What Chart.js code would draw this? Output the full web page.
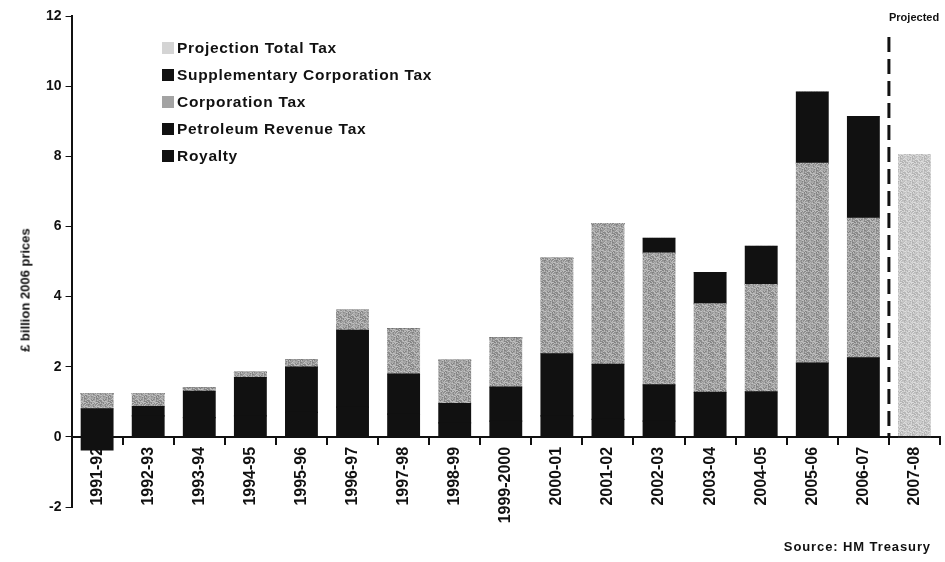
<!DOCTYPE html>
<html>
<head>
<meta charset="utf-8">
<script src="https://cdn.jsdelivr.net/npm/chart.js@4.4.1/dist/chart.umd.min.js"></script>
<style>
  html, body { margin: 0; padding: 0; background: #fff; }
  #wrap { position: relative; width: 945px; height: 562px; font-family: "Liberation Sans", Arial, sans-serif; font-weight: bold; color: #111; }
  #chart { position: absolute; left: 0; top: 0; }
  #legend { position: absolute; left: 162px; top: 34px; font-size: 15.5px; line-height: 27px; letter-spacing: 0.7px; }
  #legend div { display: flex; align-items: center; white-space: nowrap; }
  #legend span.box { width: 12px; height: 12px; margin-right: 3px; display: inline-block; }
  #ytitle { position: absolute; left: 25px; top: 290px; transform: translate(-50%, -50%) rotate(-90deg); font-size: 13px; white-space: nowrap; }
  #projected { position: absolute; left: 889px; top: 11px; font-size: 11px; }
  #source { position: absolute; right: 14px; top: 539px; font-size: 13px; letter-spacing: 0.9px; white-space: nowrap; }
</style>
</head>
<body>
<div id="wrap">
  <canvas id="chart" width="945" height="562"></canvas>
  <div id="legend"></div>
  <div id="ytitle">£ billion 2006 prices</div>
  <div id="projected">Projected</div>
  <div id="source">Source: HM Treasury</div>
</div>
<script>
const years = ['1991-92', '1992-93', '1993-94', '1994-95', '1995-96', '1996-97', '1997-98', '1998-99',
  '1999-2000', '2000-01', '2001-02', '2002-03', '2003-04', '2004-05', '2005-06', '2006-07', '2007-08'];

// £ billion, 2006 prices
const royalty = [0.80, 0.60, 0.55, 0.60, 0.70, 0.85, 0.65, 0.40, 0.45, 0.60, 0.50, 0.45, 0, 0, 0, 0, 0];
const petroleumRevenueTax = [-0.37, 0.26, 0.75, 1.09, 1.29, 2.19, 1.14, 0.55, 0.97, 1.77, 1.57, 1.03, 1.27, 1.28, 2.10, 2.25, 0];
const corporationTax = [0.43, 0.37, 0.09, 0.15, 0.20, 0.57, 1.29, 1.23, 1.40, 2.72, 4.01, 3.76, 2.52, 3.06, 5.70, 3.98, 0];
const supplementaryCT = [0, 0, 0, 0, 0, 0, 0, 0, 0, 0, 0, 0.42, 0.89, 1.09, 2.03, 2.90, 0];
const projectionTotal = [0, 0, 0, 0, 0, 0, 0, 0, 0, 0, 0, 0, 0, 0, 0, 0, 8.05];

const yTicks = [-2, 0, 2, 4, 6, 8, 10, 12];

// speckled grey fill like the scanned print
function speckle(base, spread) {
    const c = document.createElement('canvas');
    c.width = 12; c.height = 12;
    const g = c.getContext('2d');
    for (let y = 0; y < 12; y++) {
        for (let x = 0; x < 12; x++) {
            const n = Math.sin(x * 12.9898 + y * 78.233) * 43758.5453;
            const v = Math.round(base + (n - Math.floor(n) - 0.5) * spread);
            g.fillStyle = `rgb(${v},${v},${v})`;
            g.fillRect(x, y, 1, 1);
        }
    }
    return g.createPattern(c, 'repeat');
}

const ctx = document.getElementById('chart').getContext('2d');
const ctFill = speckle(162, 70);
const projFill = speckle(200, 50);
const black = '#111';

const datasets = [
    { label: 'Royalty', data: royalty, backgroundColor: black },
    { label: 'Petroleum Revenue Tax', data: petroleumRevenueTax, backgroundColor: black },
    { label: 'Corporation Tax', data: corporationTax, backgroundColor: ctFill, legendColor: '#a3a3a3' },
    { label: 'Supplementary Corporation Tax', data: supplementaryCT, backgroundColor: black },
    { label: 'Projection Total Tax', data: projectionTotal, backgroundColor: projFill, legendColor: '#d4d4d4' }
];

// legend in reverse stacking order, like the original
const legendBox = document.getElementById('legend');
datasets.slice().reverse().forEach(ds => {
    const row = document.createElement('div');
    const box = document.createElement('span');
    box.className = 'box';
    box.style.background = ds.legendColor || ds.backgroundColor;
    row.appendChild(box);
    row.appendChild(document.createTextNode(ds.label));
    legendBox.appendChild(row);
});

const projectionLine = {
    id: 'projectionLine',
    afterDatasetsDraw(chart) {
        const x = chart.scales.x;
        const y = chart.scales.y;
        const px = (x.getPixelForValue(15) + x.getPixelForValue(16)) / 2;
        const c = chart.ctx;
        c.save();
        c.strokeStyle = '#111';
        c.lineWidth = 3;
        c.setLineDash([15, 7]);
        c.beginPath();
        c.moveTo(px, y.getPixelForValue(11.4));
        c.lineTo(px, y.getPixelForValue(0));
        c.stroke();
        c.restore();
    }
};

new Chart(ctx, {
    type: 'bar',
    data: { labels: years, datasets: datasets },
    options: {
        responsive: false,
        animation: false,
        layout: { padding: { left: 42, right: 5, top: 16, bottom: 55 } },
        datasets: { bar: { categoryPercentage: 1, barPercentage: 0.62, borderWidth: 0, inflateAmount: 0.6 } },
        plugins: { legend: { display: false }, tooltip: { enabled: false } },
        scales: {
            x: {
                stacked: true,
                position: { y: 0 },
                grid: { display: true, drawOnChartArea: false, color: '#111', tickLength: 7, lineWidth: 2 },
                border: { display: true, color: '#111', width: 2 },
                ticks: {
                    color: '#111',
                    maxRotation: 90,
                    minRotation: 90,
                    autoSkip: false,
                    padding: 3,
                    font: { family: 'Liberation Sans', weight: 'bold', size: 16 }
                }
            },
            y: {
                stacked: true,
                min: -2,
                max: 12,
                afterBuildTicks(scale) {
                    scale.ticks = yTicks.map(v => ({ value: v }));
                },
                grid: { display: true, drawOnChartArea: false, color: '#111', tickLength: 6, lineWidth: 1 },
                border: { display: true, color: '#111', width: 2 },
                ticks: {
                    color: '#111',
                    padding: 4,
                    font: { family: 'Liberation Sans', weight: 'bold', size: 14 }
                }
            }
        }
    },
    plugins: [projectionLine]
});
</script>
</body>
</html>
